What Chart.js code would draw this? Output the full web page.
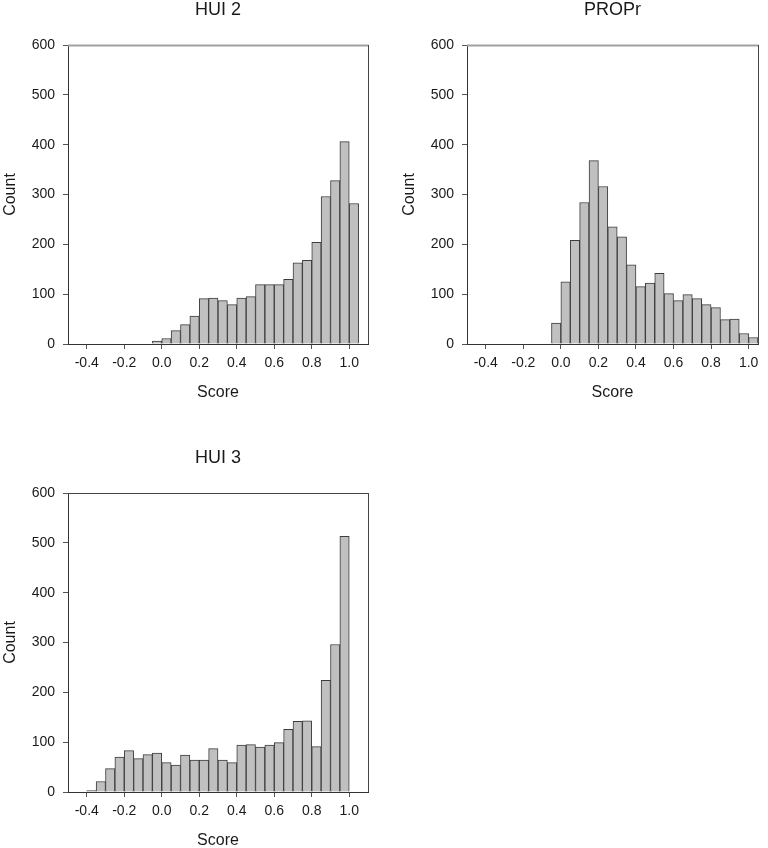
<!DOCTYPE html>
<html>
<head>
<meta charset="utf-8">
<script src="https://cdn.jsdelivr.net/npm/chart.js@4.4.1/dist/chart.umd.min.js"></script>
<style>
  html, body { margin: 0; padding: 0; background: #fff; overflow: hidden; width: 768px; height: 848px; }
  .panel { position: absolute; width: 384px; height: 410px; }
</style>
</head>
<body>
<div class="panel" style="left:0;top:0"><canvas id="hui2"></canvas></div>
<div class="panel" style="left:399px;top:0"><canvas id="propr"></canvas></div>
<div class="panel" style="left:0;top:448px"><canvas id="hui3"></canvas></div>
<script>
// bin midpoints (bin width 0.05)
const hui2Bins = [-0.025, 0.025, 0.075, 0.125, 0.175, 0.225, 0.275, 0.325, 0.375, 0.425, 0.475,
                  0.525, 0.575, 0.625, 0.675, 0.725, 0.775, 0.825, 0.875, 0.925, 0.975, 1.025];
const hui2Counts = [6, 11, 27, 39, 56, 91, 92, 87, 79, 92, 95,
                    119, 119, 119, 130, 163, 168, 204, 296, 328, 406, 282];

const proprBins = [-0.025, 0.025, 0.075, 0.125, 0.175, 0.225, 0.275, 0.325, 0.375, 0.425, 0.475,
                   0.525, 0.575, 0.625, 0.675, 0.725, 0.775, 0.825, 0.875, 0.925, 0.975, 1.025];
const proprCounts = [42, 125, 208, 284, 368, 316, 235, 215, 159, 115, 122,
                     142, 101, 87, 99, 91, 79, 73, 49, 50, 21, 13];

const hui3Bins = [-0.375, -0.325, -0.275, -0.225, -0.175, -0.125, -0.075, -0.025,
                  0.025, 0.075, 0.125, 0.175, 0.225, 0.275, 0.325, 0.375, 0.425, 0.475,
                  0.525, 0.575, 0.625, 0.675, 0.725, 0.775, 0.825, 0.875, 0.925, 0.975];
const hui3Counts = [3, 21, 47, 70, 83, 67, 75, 78,
                    59, 54, 74, 64, 64, 87, 64, 59, 94, 95,
                    90, 94, 99, 126, 142, 143, 91, 224, 296, 513];

const xTicks = [-0.4, -0.2, 0.0, 0.2, 0.4, 0.6, 0.8, 1.0];

const FONT = "'Liberation Sans', Arial, sans-serif";
const INK = '#1a1a1a';

// top and right edges of the plot box
const framePlugin = {
  id: 'frame',
  afterDraw(chart, args, opts) {
    const { ctx, chartArea: a } = chart;
    ctx.save();
    ctx.strokeStyle = opts.topColor;
    ctx.lineWidth = opts.topWidth;
    ctx.beginPath();
    ctx.moveTo(a.left, Math.round(a.top) + 0.5);
    ctx.lineTo(a.right + 0.5, Math.round(a.top) + 0.5);
    ctx.stroke();
    ctx.strokeStyle = '#444';
    ctx.lineWidth = 1;
    ctx.beginPath();
    ctx.moveTo(Math.round(a.right) + 0.5, a.top);
    ctx.lineTo(Math.round(a.right) + 0.5, a.bottom);
    ctx.stroke();
    ctx.restore();
  }
};

function histogram(id, title, bins, counts, xMax, padRight, topColor, topWidth) {
  return new Chart(id, {
    type: 'bar',
    data: {
      datasets: [{
        data: bins.map((b, i) => ({ x: b, y: counts[i] })),
        backgroundColor: '#c0c0c0',
        borderColor: '#3c3c3c',
        borderWidth: 1,
        barPercentage: 1,
        categoryPercentage: 1
      }]
    },
    options: {
      responsive: true,
      maintainAspectRatio: false,
      animation: false,
      layout: { padding: { left: 0, right: padRight, top: 0, bottom: 0 } },
      plugins: {
        legend: { display: false },
        tooltip: { enabled: false },
        title: {
          display: true,
          fullSize: false,
          text: title,
          color: INK,
          font: { family: FONT, size: 18, weight: 'normal', lineHeight: 1 },
          padding: { top: 1, bottom: 26 }
        },
        frame: { topColor: topColor, topWidth: topWidth }
      },
      scales: {
        x: {
          type: 'linear',
          min: -0.5,
          max: xMax,
          offset: false,
          afterBuildTicks: s => { s.ticks = xTicks.map(v => ({ value: v })); },
          afterFit: s => { s.height = 66; },
          grid: { display: true, drawOnChartArea: false, offset: false, tickLength: 5, color: '#555' },
          border: { display: true, color: '#333', width: 1 },
          ticks: {
            color: INK,
            padding: 6,
            maxRotation: 0,
            font: { family: FONT, size: 14 },
            callback: v => Number(v).toFixed(1)
          },
          title: {
            display: true,
            text: 'Score',
            color: INK,
            font: { family: FONT, size: 16 },
            padding: { top: 0, bottom: 8 }
          }
        },
        y: {
          min: 0,
          max: 600,
          afterFit: s => { s.width = 68; },
          grid: { display: true, drawOnChartArea: false, tickLength: 5, color: '#555' },
          border: { display: true, color: '#333', width: 1 },
          ticks: {
            stepSize: 100,
            color: INK,
            padding: 8,
            font: { family: FONT, size: 14 }
          },
          title: {
            display: true,
            text: 'Count',
            color: INK,
            font: { family: FONT, size: 16 },
            padding: { top: 1, bottom: 0 }
          }
        }
      }
    },
    plugins: [framePlugin]
  });
}

histogram('hui2', 'HUI 2', hui2Bins, hui2Counts, 1.1, 16, '#a0a0a0', 2);
histogram('propr', 'PROPr', proprBins, proprCounts, 1.05, 25, '#a0a0a0', 2);
histogram('hui3', 'HUI 3', hui3Bins, hui3Counts, 1.1, 16, '#444', 1);
</script>
</body>
</html>
